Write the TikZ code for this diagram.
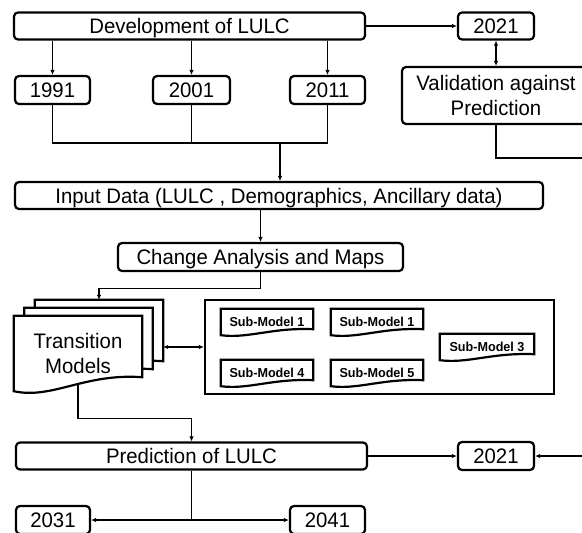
\documentclass[tikz,border=0pt]{standalone}
\usepackage{fontspec}
\setmainfont[FakeStretch=0.97]{Liberation Sans}
\usetikzlibrary{arrows.meta, calc}
\pgfdeclarelayer{bg}
\pgfsetlayers{bg,main}
\newcommand{\mainsize}{\fontsize{21}{24.5}\selectfont}
\newcommand{\subsize}{\fontsize{13}{15}\selectfont\bfseries}
% page outline with a wavy lower edge: node, depth of the wave (pt)
\newcommand{\docoutline}[2]{%
  \draw[docline] (#1.north west) -- (#1.north east) -- ($(#1.south east)+(0pt,#2pt)$)
    .. controls ($(#1.south west)!0.55!(#1.south east)+(0pt,1.3*#2pt)$)
       and ($(#1.south west)!0.3!(#1.south east)+(0pt,-0.6*#2pt)$) .. (#1.south west) -- cycle;}
\tikzset{
  bbase/.style={draw, line width=2.2pt, rounded corners=4pt, inner sep=0pt, font=\mainsize},
  lbox/.style={bbase, text height=15pt, text depth=0pt},
  mbox/.style={bbase, align=center},
  sbox/.style={draw, line width=2.2pt, inner sep=0pt},
  doc/.style={inner sep=0pt, align=center},
  subdoc/.style={doc, font=\subsize, minimum height=26pt},
  docline/.style={draw, fill=white, line width=2.2pt},
  wire/.style={line width=1.1pt},
  conn/.style={wire, -{Latex[length=5pt,width=4.5pt]}},
  dconn/.style={wire, {Latex[length=5pt,width=4.5pt]}-{Latex[length=5pt,width=4.5pt]}},
}
\begin{document}
\begin{tikzpicture}[x=1pt, y=-1pt]
  \useasboundingbox (0,0) rectangle (582,533);
  \clip (0,0) rectangle (582,533);
  % observed maps
  \node[lbox, minimum width=351pt, minimum height=27pt] (dev) at (189.5,26) {Development of LULC};
  \node[lbox, minimum width=76pt, minimum height=27pt] (yrtop) at (496,26) {2021};
  \node[lbox, minimum width=75pt, minimum height=28pt] (y91) at (52.5,90) {1991};
  \node[lbox, minimum width=77pt, minimum height=28pt] (y01) at (191.5,90) {2001};
  \node[lbox, minimum width=75pt, minimum height=28pt] (y11) at (327.5,90) {2011};
  \node[mbox, minimum width=188pt, minimum height=57pt] (valid) at (496,95.5) {Validation against\\Prediction};
  \node[lbox, minimum width=528pt, minimum height=27pt] (input) at (279,195.5) {Input Data (LULC , Demographics, Ancillary data)};
  \node[lbox, minimum width=285pt, minimum height=28pt] (change) at (260.5,257) {Change Analysis and Maps};
  % transition models
  \node[doc, minimum width=128pt, minimum height=75pt] (tm3) at (99,337.5) {};
  \node[doc, minimum width=128pt, minimum height=75pt] (tm2) at (88.5,345.5) {};
  \node[doc, minimum width=128pt, minimum height=75pt, font=\mainsize] (tm) at (78,353.5) {Transition\\Models};
  \node[sbox, minimum width=349pt, minimum height=94pt] (subs) at (379.5,347) {};
  \node[subdoc, minimum width=92pt] (sm1) at (267,322) {Sub-Model 1};
  \node[subdoc, minimum width=92pt] (sm2) at (377,322) {Sub-Model 1};
  \node[subdoc, minimum width=94pt] (sm3) at (487,347) {Sub-Model 3};
  \node[subdoc, minimum width=92pt] (sm4) at (267,373) {Sub-Model 4};
  \node[subdoc, minimum width=92pt] (sm5) at (377,373) {Sub-Model 5};
  \begin{pgfonlayer}{bg}
    \docoutline{tm3}{14} \docoutline{tm2}{14} \docoutline{tm}{14}
    \foreach \s in {sm1,sm2,sm3,sm4,sm5} {\docoutline{\s}{6}}
  \end{pgfonlayer}
  % predicted maps
  \node[lbox, minimum width=351pt, minimum height=27pt] (pred) at (191.5,456) {Prediction of LULC};
  \node[lbox, minimum width=76pt, minimum height=28pt] (yrbot) at (496,456) {2021};
  \node[lbox, minimum width=74pt, minimum height=28pt] (y31) at (53,520) {2031};
  \node[lbox, minimum width=75pt, minimum height=28pt] (y41) at (327.5,520) {2041};
  \coordinate (j1) at (280,143);
  \coordinate (r1) at (600,158);
  \coordinate (j3) at (191.5,520);
  % connectors
  \foreach \y in {y91,y01,y11} \draw[conn] (dev.south -| \y.north) -- (\y.north);
  \draw[conn] (dev.east) -- (yrtop.west);
  \draw[dconn] (yrtop.south) -- (valid.north);
  \draw[wire] (y91.south) |- (j1) -| (y11.south);
  \draw[wire] (y01.south) -- (y01.south |- j1);
  \draw[conn] (j1) -- (j1 |- input.north);
  \draw[conn] (input.south -| change.north) -- (change.north);
  \draw[conn] (change.south) -- ++(0,16) -| (tm3.north);
  \draw[dconn] (tm3.east |- subs.west) -- (subs.west);
  \draw[conn] ([yshift=6pt]tm.south) -- ++(0,33) -| (pred.north);
  \draw[conn] (pred.east) -- (yrbot.west);
  \draw[conn] (valid.south) |- (r1) |- (yrbot.east);
  \draw[wire] (pred.south) -- (j3);
  \draw[conn] (j3) -- (y31.east);
  \draw[conn] (j3) -- (y41.west);
\end{tikzpicture}
\end{document}
